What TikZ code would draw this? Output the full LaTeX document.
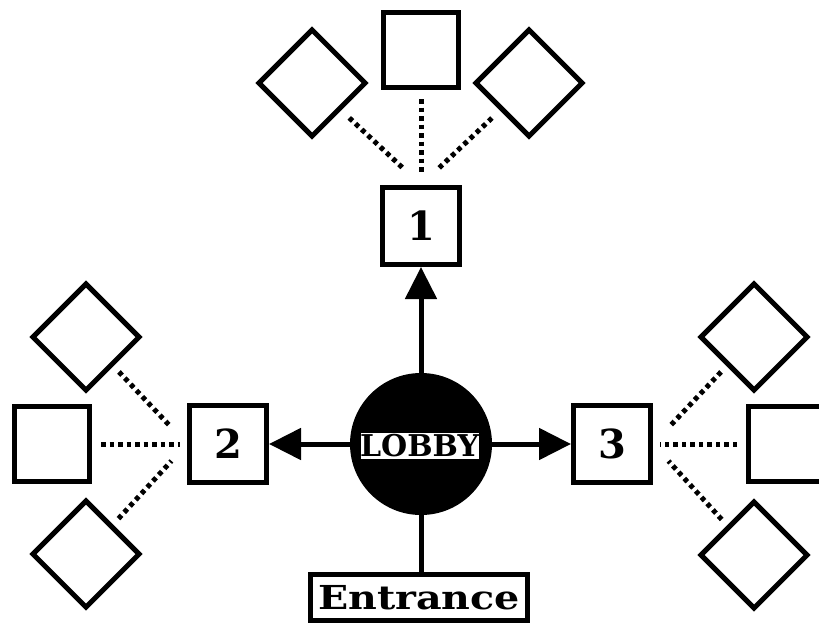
\documentclass[tikz,border=0pt]{standalone}
\usepackage{fontspec}
\setmainfont{DejaVu Serif}
\usetikzlibrary{arrows.meta}

\tikzset{
  room/.style={draw=black, line width=5pt, fill=white, minimum size=75pt, inner sep=0pt},
  bay/.style={room, rotate=45},
  hall/.style={draw=black, line width=5pt, fill=white, minimum size=77pt, inner sep=0pt,
    font=\fontsize{40}{42}\selectfont\bfseries},
  link/.style={line width=5pt, dash pattern=on 4.5pt off 4pt},
  walk/.style={line width=5pt, -{Triangle[length=32pt, width=31pt]}},
}

\begin{document}
\begin{tikzpicture}[x=1pt, y=-1pt]
  \useasboundingbox (0,0) rectangle (819,624);
  \clip (0,0) rectangle (819,624);

  % central lobby
  \node[circle, fill=black, minimum size=142pt, inner sep=0pt] (lobby) at (421,444) {};
  \node[fill=white, draw=black, line width=0.8pt, minimum width=113pt, minimum height=27pt,
        inner sep=0pt, font=\fontsize{30}{31}\selectfont\bfseries] (lobbylabel) at (419.5,445.5)
        {\raisebox{-0.5pt}{LOBBY}};

  % wings
  \node[hall] (h1) at (421,226) {1};
  \node[hall] (h2) at (228,444) {2};
  \node[hall] (h3) at (612,444) {3};

  % entrance
  \node[draw=black, line width=5pt, fill=white, minimum width=217pt, minimum height=46pt,
        inner sep=0pt, font=\fontsize{33}{35}\selectfont\bfseries] (entry) at (419,597.5)
        {\scalebox{1.2}[1]{Entrance}};

  % rooms around wing 1
  \node[room] (t1) at (421,50) {};
  \node[bay] (tl) at (312,83) {};
  \node[bay] (tr) at (529,83) {};

  % rooms around wing 2
  \node[room] (l1) at (52,444) {};
  \node[bay] (lt) at (86,337) {};
  \node[bay] (lb) at (86,554) {};

  % rooms around wing 3
  \node[room] (r1) at (786,444) {};
  \node[bay] (rt) at (754,337) {};
  \node[bay] (rb) at (754,555) {};

  % corridors from the lobby
  \draw[walk] (lobby) -- (h1);
  \draw[walk] (lobby) -- (h2);
  \draw[walk] (lobby) -- (h3);
  \draw[line width=5pt] (lobby.south) -- (lobby.south |- entry.north);

  % dotted links to rooms
  \draw[link, shorten <=9pt, shorten >=10pt] (t1) -- (h1.north);
  \draw[link, shorten <=11pt, shorten >=24pt] (tl) -- (h1.north);
  \draw[link, shorten <=11pt, shorten >=24pt] (tr) -- (h1.north);

  \draw[link, shorten <=9pt, shorten >=7pt] (l1) -- (h2.west);
  \draw[link, shorten <=8pt, shorten >=23pt] (lt) -- (h2.west);
  \draw[link, shorten <=8pt, shorten >=23pt] (lb) -- (h2.west);

  \draw[link, shorten <=9pt, shorten >=7pt] (r1) -- (h3.east);
  \draw[link, shorten <=8pt, shorten >=23pt] (rt) -- (h3.east);
  \draw[link, shorten <=8pt, shorten >=23pt] (rb) -- (h3.east);
\end{tikzpicture}
\end{document}
